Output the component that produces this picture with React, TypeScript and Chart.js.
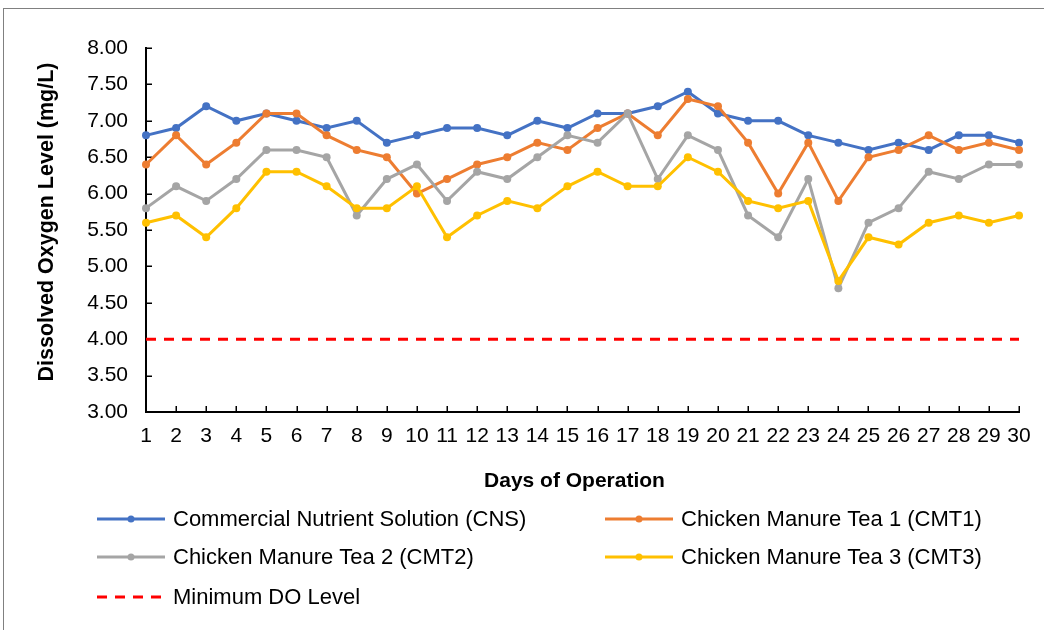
import React, { useEffect, useRef } from "react";
import { Chart, registerables } from "chart.js";

Chart.register(...registerables);

const days = ["1","2","3","4","5","6","7","8","9","10","11","12","13","14","15","16","17","18","19","20","21","22","23","24","25","26","27","28","29","30"];

const cns = [6.8, 6.9, 7.2, 7.0, 7.1, 7.0, 6.9, 7.0, 6.7, 6.8, 6.9, 6.9, 6.8, 7.0, 6.9, 7.1, 7.1, 7.2, 7.4, 7.1, 7.0, 7.0, 6.8, 6.7, 6.6, 6.7, 6.6, 6.8, 6.8, 6.7];
const cmt1 = [6.4, 6.8, 6.4, 6.7, 7.1, 7.1, 6.8, 6.6, 6.5, 6.0, 6.2, 6.4, 6.5, 6.7, 6.6, 6.9, 7.1, 6.8, 7.3, 7.2, 6.7, 6.0, 6.7, 5.9, 6.5, 6.6, 6.8, 6.6, 6.7, 6.6];
const cmt2 = [5.8, 6.1, 5.9, 6.2, 6.6, 6.6, 6.5, 5.7, 6.2, 6.4, 5.9, 6.3, 6.2, 6.5, 6.8, 6.7, 7.1, 6.2, 6.8, 6.6, 5.7, 5.4, 6.2, 4.7, 5.6, 5.8, 6.3, 6.2, 6.4, 6.4];
const cmt3 = [5.6, 5.7, 5.4, 5.8, 6.3, 6.3, 6.1, 5.8, 5.8, 6.1, 5.4, 5.7, 5.9, 5.8, 6.1, 6.3, 6.1, 6.1, 6.5, 6.3, 5.9, 5.8, 5.9, 4.8, 5.4, 5.3, 5.6, 5.7, 5.6, 5.7];
const minDO = [4, 4, 4, 4, 4, 4, 4, 4, 4, 4, 4, 4, 4, 4, 4, 4, 4, 4, 4, 4, 4, 4, 4, 4, 4, 4, 4, 4, 4, 4];

const seriesNames = [
  "Commercial Nutrient Solution (CNS)",
  "Chicken Manure Tea 1 (CMT1)",
  "Chicken Manure Tea 2 (CMT2)",
  "Chicken Manure Tea 3 (CMT3)",
  "Minimum DO Level",
];
const seriesColors = ["#4472C4", "#ED7D31", "#A5A5A5", "#FFC000", "#FF0000"];

const yTitle = "Dissolved Oxygen Level (mg/L)";
const xTitle = "Days of Operation";

const yMin = 3;
const yMax = 8;
const yStep = 0.5;

const FONT = "'Liberation Sans', Arial, sans-serif";

const framePlugin = {
  id: "frame",
  beforeDraw(chart: any) {
    const ctx = chart.ctx;
    ctx.save();
    ctx.fillStyle = "#ffffff";
    ctx.fillRect(0, 0, chart.width, chart.height);
    ctx.strokeStyle = "#808080";
    ctx.lineWidth = 1;
    ctx.strokeRect(3.5, 8.5, 1100, 700);
    ctx.restore();
  },
};

const insideTicksPlugin = {
  id: "insideTicks",
  beforeDatasetsDraw(chart: any) {
    const ctx = chart.ctx;
    const xs = chart.scales.x;
    const ys = chart.scales.y;
    const area = chart.chartArea;
    ctx.save();
    ctx.strokeStyle = "#000";
    ctx.lineWidth = 1.5;
    ctx.beginPath();
    ys.ticks.forEach((t: any) => {
      const y = Math.round(ys.getPixelForValue(t.value)) + 0.25;
      ctx.moveTo(area.left, y);
      ctx.lineTo(area.left + 6, y);
    });
    for (let i = 1; i < days.length; i++) {
      const x = Math.round(xs.getPixelForValue(i)) + 0.25;
      ctx.moveTo(x, area.bottom);
      ctx.lineTo(x, area.bottom - 6);
    }
    ctx.stroke();
    ctx.restore();
  },
};

const titlesPlugin = {
  id: "axisTitles",
  afterDraw(chart: any) {
    const ctx = chart.ctx;
    ctx.save();
    ctx.fillStyle = "#000";
    ctx.textAlign = "center";
    ctx.textBaseline = "middle";
    ctx.font = `bold 21.5px ${FONT}`;
    ctx.translate(47, 222);
    ctx.rotate(-Math.PI / 2);
    ctx.fillText(yTitle, 0, 0);
    ctx.restore();
    ctx.save();
    ctx.fillStyle = "#000";
    ctx.textAlign = "center";
    ctx.textBaseline = "middle";
    ctx.font = `bold 21px ${FONT}`;
    const area = chart.chartArea;
    ctx.fillText(xTitle, (area.left + area.right) / 2 - 8, 481);
    ctx.restore();
  },
};

const legendPlugin = {
  id: "customLegend",
  afterDraw(chart: any) {
    const ctx = chart.ctx;
    const slots = [
      { x: 97, y: 519 },
      { x: 605, y: 519 },
      { x: 97, y: 557 },
      { x: 605, y: 557 },
      { x: 97, y: 597 },
    ];
    ctx.save();
    ctx.font = `22px ${FONT}`;
    ctx.textBaseline = "middle";
    ctx.textAlign = "left";
    seriesNames.forEach((name, i) => {
      const s = slots[i];
      const color = seriesColors[i];
      ctx.strokeStyle = color;
      ctx.lineWidth = 3;
      if (i === 4) {
        ctx.setLineDash([10, 8]);
      } else {
        ctx.setLineDash([]);
      }
      ctx.beginPath();
      ctx.moveTo(s.x, s.y);
      ctx.lineTo(s.x + 68, s.y);
      ctx.stroke();
      ctx.setLineDash([]);
      if (i !== 4) {
        ctx.fillStyle = color;
        ctx.beginPath();
        ctx.arc(s.x + 34, s.y, 3.5, 0, Math.PI * 2);
        ctx.fill();
      }
      ctx.fillStyle = "#000";
      ctx.fillText(name, s.x + 76, s.y + 1);
    });
    ctx.restore();
  },
};

export default function App() {
  const canvasRef = useRef<HTMLCanvasElement | null>(null);

  useEffect(() => {
    if (!canvasRef.current) return;
    const mk = (i: number, data: number[]) => ({
      label: seriesNames[i],
      data,
      borderColor: seriesColors[i],
      backgroundColor: seriesColors[i],
      pointBackgroundColor: seriesColors[i],
      pointBorderColor: seriesColors[i],
      borderWidth: 3,
      pointRadius: 4,
      pointBorderWidth: 0,
      tension: 0,
      clip: false as any,
    });
    const chart = new Chart(canvasRef.current, {
      type: "line",
      data: {
        labels: days,
        datasets: [
          {
            label: seriesNames[4],
            data: minDO,
            borderColor: seriesColors[4],
            backgroundColor: seriesColors[4],
            borderWidth: 3,
            borderDash: [10, 8],
            pointRadius: 0,
            tension: 0,
            clip: false as any,
          },
          mk(3, cmt3),
          mk(2, cmt2),
          mk(1, cmt1),
          mk(0, cns),
        ],
      },
      options: {
        responsive: false,
        animation: false,
        layout: { padding: { top: 48, right: 25, bottom: 128, left: 0 } },
        plugins: {
          legend: { display: false },
          tooltip: { enabled: false },
          title: { display: false },
        },
        scales: {
          x: {
            type: "category",
            offset: false,
            grid: { display: false, drawTicks: false },
            border: { display: true, color: "#000", width: 2 },
            ticks: {
              color: "#000",
              font: { family: FONT, size: 21 },
              padding: 12,
              maxRotation: 0,
              autoSkip: false,
            },
            afterFit(scale: any) {
              scale.height = 90;
            },
          },
          y: {
            min: yMin,
            max: yMax,
            grid: { display: false, drawTicks: false },
            border: { display: true, color: "#000", width: 2 },
            ticks: {
              stepSize: yStep,
              color: "#000",
              font: { family: FONT, size: 21 },
              padding: 18,
              callback: (v: any) => Number(v).toFixed(2),
            },
            afterFit(scale: any) {
              scale.width = 146;
            },
          },
        },
      },
      plugins: [framePlugin, insideTicksPlugin, titlesPlugin, legendPlugin],
    });
    return () => chart.destroy();
  }, []);

  return (
    <div style={{ position: "fixed", left: 0, top: 0, width: 1044, height: 630, background: "#fff" }}>
      <canvas ref={canvasRef} width={1044} height={630} />
    </div>
  );
}
